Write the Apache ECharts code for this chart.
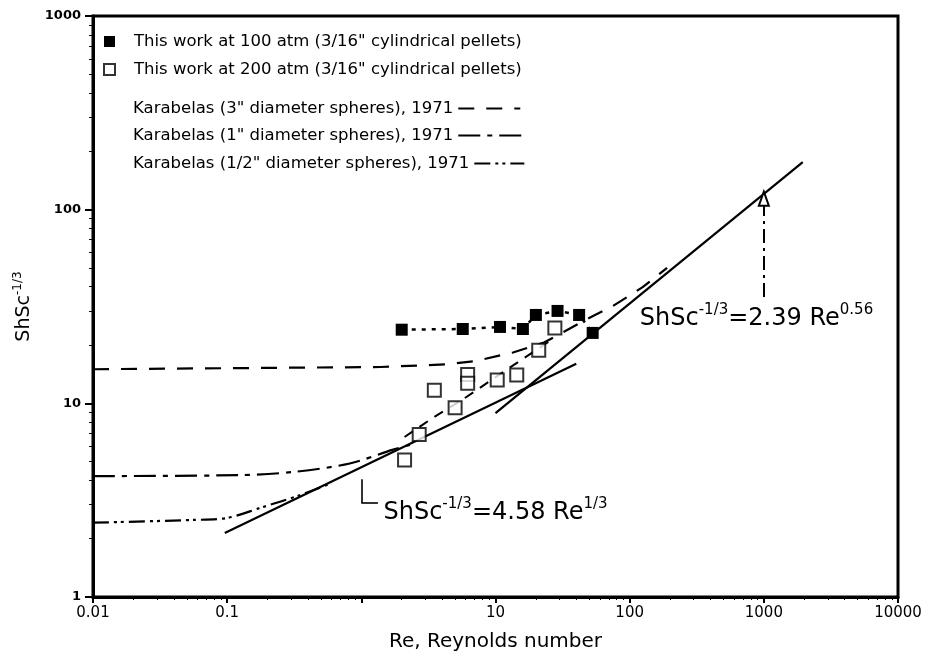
<!DOCTYPE html>
<html>
<head>
<meta charset="utf-8">
<script src="https://cdn.jsdelivr.net/npm/echarts@6/dist/echarts.min.js"></script>
<style>
  html, body { margin: 0; padding: 0; background: #fff; }
  #chart { width: 931px; height: 662px; }
</style>
</head>
<body>
<div id="chart"></div>
<script>
// axis ticks
const xTickLabels = ['0.01', '0.1', '', '10', '100', '1000', '10000']
const yTickLabels = ['1', '10', '100', '1000']
const xMinorTicks = [0.02, 0.03, 0.04, 0.05, 0.06, 0.07, 0.08, 0.09, 0.2, 0.3, 0.4, 0.5, 0.6, 0.7, 0.8, 0.9,
  2, 3, 4, 5, 6, 7, 8, 9, 20, 30, 40, 50, 60, 70, 80, 90, 200, 300, 400, 500, 600, 700, 800, 900,
  2000, 3000, 4000, 5000, 6000, 7000, 8000, 9000]
const yMinorTicks = [2, 3, 4, 5, 6, 7, 8, 9, 20, 30, 40, 50, 60, 70, 80, 90, 200, 300, 400, 500, 600, 700, 800, 900]

// this work, 100 atm (filled squares)
const re100 = [2, 5.7, 10.8, 16, 20, 29, 42, 53]
const sh100 = [24, 24.2, 24.8, 24.2, 28.6, 30, 28.6, 23.1]

// this work, 200 atm (open squares)
const re200 = [2.1, 2.7, 3.5, 5.0, 6.2, 6.2, 10.3, 14.4, 21, 27.7]
const sh200 = [5.1, 6.9, 11.7, 9.5, 14.1, 12.7, 13.2, 14.0, 18.8, 24.5]

// Karabelas 1971 curves
const reK3 = [0.01, 1.4, 4.3, 7, 13.5, 23, 48, 75, 125, 190]
const shK3 = [15, 15.4, 15.9, 16.5, 18.3, 20.6, 27.2, 31.8, 39.8, 50]
const reK1 = [0.01, 0.124, 0.31, 0.82, 1.7, 2.3]
const shK1 = [4.21, 4.26, 4.42, 4.89, 5.75, 6.1]
const reKh = [0.01, 0.056, 0.1, 0.175, 0.35, 0.6]
const shKh = [2.42, 2.5, 2.56, 2.88, 3.36, 3.87]

// dashed trend through the 200 atm points
const reFit = [2.1, 3.5, 5.6, 11.4, 26]
const shFit = [6.7, 8.5, 10.4, 14.5, 21.2]

// correlations (end points)
const reLow = [0.096, 40]
const shLow = [2.14, 16]
const reHigh = [10, 1950]
const shHigh = [8.9, 176]

const names = [
  'This work at 100 atm (3/16" cylindrical pellets)',
  'This work at 200 atm (3/16" cylindrical pellets)',
  'Karabelas (3" diameter spheres), 1971',
  'Karabelas (1" diameter spheres), 1971',
  'Karabelas (1/2" diameter spheres), 1971',
]

const pairs = (xs, ys) => xs.map((x, i) => [x, ys[i]])

const font = 'DejaVu Sans'
const legendText = { fontFamily: font, fontSize: 16.5, color: '#000' }
const supRich = {
  b: { fontFamily: font, fontSize: 24, color: '#000', lineHeight: 28, verticalAlign: 'bottom' },
  s: { fontFamily: font, fontSize: 15, color: '#000', lineHeight: 15, verticalAlign: 'top' },
}

// one legend per Karabelas row so the text stays left aligned
const curveLegend = (name, top, width) => ({
  orient: 'horizontal',
  left: 128,
  top: top,
  itemWidth: width,
  itemHeight: 16,
  align: 'right',
  itemStyle: { opacity: 0 },
  textStyle: legendText,
  data: [name],
})

const chart = echarts.init(document.getElementById('chart'))

const option = {
  backgroundColor: '#fff',
  animation: false,
  grid: {
    left: 93,
    right: 33,
    top: 16,
    bottom: 65,
    show: true,
    borderColor: '#000',
    borderWidth: 3,
    backgroundColor: 'transparent',
  },
  legend: [
    {
      orient: 'vertical',
      left: 98,
      top: 28,
      itemGap: 11,
      itemWidth: 11,
      itemHeight: 11,
      textStyle: { ...legendText, padding: [0, 0, 0, 14] },
      data: [
        { name: names[0], icon: 'rect' },
        { name: names[1], icon: 'rect' },
      ],
    },
    curveLegend(names[2], 95, 62),
    curveLegend(names[3], 122, 64),
    curveLegend(names[4], 150, 50),
  ],
  xAxis: [
    {
      type: 'log',
      logBase: 10,
      min: 0.01,
      max: 10000,
      name: 'Re, Reynolds number',
      nameLocation: 'middle',
      nameGap: 35,
      nameTextStyle: { fontFamily: font, fontSize: 20, color: '#000' },
      axisLine: { lineStyle: { color: '#000', width: 3 } },
      axisTick: { length: 6, lineStyle: { color: '#000', width: 2 } },
      axisLabel: {
        color: '#000',
        fontFamily: font,
        fontSize: 15,
        margin: 9,
        formatter: (v, i) => xTickLabels[i] ?? '',
      },
      splitLine: { show: false },
    },
    {
      type: 'log',
      logBase: 10,
      min: 0.01,
      max: 10000,
      position: 'bottom',
      axisLine: { show: false },
      axisLabel: { show: false },
      axisTick: { length: 3, customValues: xMinorTicks, lineStyle: { color: '#000', width: 1 } },
      splitLine: { show: false },
    },
  ],
  yAxis: [
    {
      type: 'log',
      logBase: 10,
      min: 1,
      max: 1000,
      name: '{a|ShSc}{b|-1/3}',
      nameLocation: 'middle',
      nameRotate: 90,
      nameGap: 58,
      nameTextStyle: {
        rich: {
          a: { fontFamily: font, fontSize: 19, color: '#000', lineHeight: 22, verticalAlign: 'bottom' },
          b: { fontFamily: font, fontSize: 12, color: '#000', lineHeight: 12, verticalAlign: 'top' },
        },
      },
      axisLine: { lineStyle: { color: '#000', width: 3 } },
      axisTick: { length: 8, lineStyle: { color: '#000', width: 2 } },
      axisLabel: {
        color: '#000',
        fontFamily: font,
        fontWeight: 'bold',
        fontSize: 13,
        margin: 12,
        formatter: (v, i) => yTickLabels[i] ?? '',
      },
      splitLine: { show: false },
    },
    {
      type: 'log',
      logBase: 10,
      min: 1,
      max: 1000,
      position: 'left',
      axisLine: { show: false },
      axisLabel: { show: false },
      axisTick: { length: 4, customValues: yMinorTicks, lineStyle: { color: '#000', width: 1 } },
      splitLine: { show: false },
    },
  ],
  series: [
    {
      name: names[0],
      type: 'line',
      data: pairs(re100, sh100),
      symbol: 'rect',
      symbolSize: 12,
      itemStyle: { color: '#000' },
      lineStyle: { color: '#000', width: 2.5, type: [4, 6] },
      z: 5,
    },
    {
      name: names[1],
      type: 'scatter',
      data: pairs(re200, sh200),
      symbol: 'rect',
      symbolSize: 13,
      itemStyle: { color: '#fff', borderColor: '#000', borderWidth: 2 },
      z: 4,
    },
    {
      name: names[2],
      type: 'line',
      data: pairs(reK3, shK3),
      symbol: 'none',
      itemStyle: { color: '#000' },
      lineStyle: { color: '#000', width: 2.2, type: [16, 12] },
    },
    {
      name: names[3],
      type: 'line',
      data: pairs(reK1, shK1),
      symbol: 'none',
      smooth: 0.3,
      itemStyle: { color: '#000' },
      lineStyle: { color: '#000', width: 2.2, type: [22, 7, 5, 7] },
    },
    {
      name: names[4],
      type: 'line',
      data: pairs(reKh, shKh),
      symbol: 'none',
      smooth: 0.3,
      itemStyle: { color: '#000' },
      lineStyle: { color: '#000', width: 2.2, type: [16, 5, 3, 4, 3, 5] },
    },
    {
      name: 'fit200',
      type: 'line',
      data: pairs(reFit, shFit),
      symbol: 'none',
      smooth: 0.3,
      lineStyle: { color: '#000', width: 2, type: [10, 8] },
    },
    {
      name: 'low',
      type: 'line',
      data: pairs(reLow, shLow),
      symbol: 'none',
      lineStyle: { color: '#000', width: 2.2 },
      markLine: {
        silent: true,
        symbol: 'none',
        label: { show: false },
        lineStyle: { color: '#000', width: 1.6, type: 'solid' },
        data: [
          [{ coord: [1, 4.05] }, { coord: [1, 3.06] }],
          [{ coord: [1, 3.06] }, { coord: [1.33, 3.06] }],
        ],
      },
      markPoint: {
        silent: true,
        symbol: 'circle',
        symbolSize: 1,
        itemStyle: { color: 'transparent' },
        label: {
          show: true,
          position: 'right',
          distance: 0,
          formatter: '{b|ShSc}{s|-1/3}{b|=4.58 Re}{s|1/3}',
          rich: supRich,
        },
        data: [{ coord: [1.45, 2.8] }],
      },
    },
    {
      name: 'high',
      type: 'line',
      data: pairs(reHigh, shHigh),
      symbol: 'none',
      lineStyle: { color: '#000', width: 2.2 },
      markLine: {
        silent: true,
        symbol: ['none', 'emptyTriangle'],
        symbolSize: [10, 14],
        label: { show: false },
        lineStyle: { color: '#000', width: 2, type: [14, 5, 3, 5] },
        data: [[{ coord: [1000, 35.4] }, { coord: [1000, 114] }]],
      },
      markPoint: {
        silent: true,
        symbol: 'circle',
        symbolSize: 1,
        itemStyle: { color: 'transparent' },
        label: {
          show: true,
          position: 'right',
          distance: 0,
          formatter: '{b|ShSc}{s|-1/3}{b|=2.39 Re}{s|0.56}',
          rich: supRich,
        },
        data: [{ coord: [118, 27.9] }],
      },
    },
  ],
}

chart.setOption(option)
</script>
</body>
</html>
